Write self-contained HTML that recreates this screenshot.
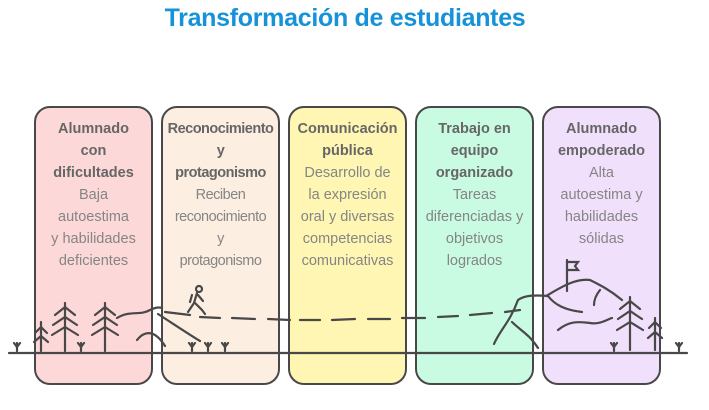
<!DOCTYPE html>
<html><head><meta charset="utf-8"><style>
body{margin:0;width:709px;height:410px;background:#fff;position:relative;overflow:hidden;font-family:"Liberation Sans",sans-serif}
.t{position:absolute;top:4px;left:0;width:690px;text-align:center;color:#1592d8;font-weight:bold;font-size:25px;letter-spacing:-0.3px}
.b{position:absolute;top:106px;width:119px;height:279px;border:2.5px solid #484848;border-radius:16px;box-sizing:border-box}
.tx{position:absolute;top:118px;width:127px;text-align:center;color:#858585;font-size:14.5px;line-height:22px}
.tx b{color:#666}
</style></head><body>
<div class="t">Transformación de estudiantes</div>
<div class="b" style="left:34px;background:#fdd8d8"></div>
<div class="b" style="left:161px;background:#fdeee2"></div>
<div class="b" style="left:288px;background:#fef6b2"></div>
<div class="b" style="left:415px;background:#c8fbe2"></div>
<div class="b" style="left:542px;background:#f1e0fb"></div>
<div class="tx" style="left:30px"><b>Alumnado<br>con<br>dificultades</b><br>Baja<br>autoestima<br>y habilidades<br>deficientes</div>
<div class="tx" style="left:157px;letter-spacing:-0.5px"><b>Reconocimiento<br>y<br>protagonismo</b><br>Reciben<br>reconocimiento<br>y<br>protagonismo</div>
<div class="tx" style="left:284px"><b>Comunicación<br>pública</b><br>Desarrollo de<br>la expresión<br>oral y diversas<br>competencias<br>comunicativas</div>
<div class="tx" style="left:411px"><b>Trabajo en<br>equipo<br>organizado</b><br>Tareas<br>diferenciadas y<br>objetivos<br>logrados</div>
<div class="tx" style="left:538px"><b>Alumnado<br>empoderado</b><br>Alta<br>autoestima y<br>habilidades<br>sólidas</div>
<svg width="709" height="410" style="position:absolute;left:0;top:0" fill="none" stroke="#484848" stroke-width="2.2" stroke-linecap="round">
<line x1="9" y1="353" x2="687" y2="353"/>
<path d="M165 312 L190 315 M200 317 L220 318 M232 318 L255 319 M268 319 L290 320 M300 320 L320 320 M332 320 L355 319 M368 319 L390 319 M402 318 L425 318 M438 317 L458 316 M470 315 L492 313 M505 312 L520 310"/>
<path d="M117 318 C130 310 140 316 150 310 C158 306 162 308 162 308 M158 314 C175 325 190 335 200 341 M137 340 C145 330 155 330 165 346"/>
<path d="M65 303 V351 M55 315 L65 307 L75 315 M53 325 L65 317 L77 325 M52 335 L65 327 L78 335 M105 303 V351 M95 315 L105 307 L115 315 M93 325 L105 317 L117 325 M92 335 L105 327 L118 335 M41 322 V351 M35 333 L41 327 L47 333 M34 342 L41 336 L48 342"/>
<path d="M17 343 V351 M14 343 L17 347 L20 343 M81 343 V351 M78 343 L81 347 L84 343 M192 343 V351 M189 343 L192 347 L195 343 M208 343 V351 M205 343 L208 347 L211 343 M225 343 V351 M222 343 L225 347 L228 343 M614 343 V351 M611 343 L614 347 L617 343 M679 343 V351 M676 343 L679 347 L682 343"/>
<circle cx="199" cy="289" r="3"/><path d="M197 293 L194 303 L188 312 M195 303 L202 310 L205 314 M198 295 L203 301 M192 295 L190 302"/>
<path d="M494 344 C500 330 510 322 518 300 C525 295 535 295 548 296 C555 305 565 310 582 312 M512 322 C520 330 530 335 538 348 M546 296 C560 288 575 278 590 280 C600 285 610 290 622 300 M600 290 C596 295 594 300 594 305 M558 330 C570 320 580 322 590 323 C600 325 610 318 612 318 M567 291 V260 M567 262 H578 L575 266 L578 270 H567"/>
<path d="M630 297 V350 M620 309 L630 301 L640 309 M618 319 L630 311 L642 319 M617 330 L630 322 L643 330 M655 318 V350 M649 328 L655 322 L661 328 M648 338 L655 332 L662 338"/>
</svg>
</body></html>
